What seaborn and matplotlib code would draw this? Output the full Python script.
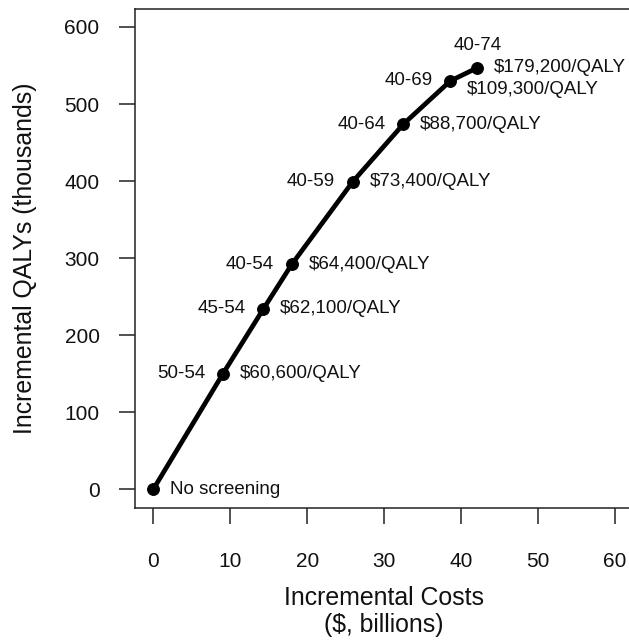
import numpy as np
import pandas as pd
import seaborn as sns
from matplotlib import pyplot as plt

# screening strategies (age ranges) along the efficiency frontier
strategies = ['No screening', '50-54', '45-54', '40-54', '40-59', '40-64', '40-69', '40-74']
costs = [0, 9.05, 14.3, 18.0, 25.9, 32.5, 38.6, 42.1]        # $, billions
qalys = [0, 150, 234, 292, 399, 474, 530, 547]                # thousands
icers = ['', '$60,600/QALY', '$62,100/QALY', '$64,400/QALY', '$73,400/QALY',
         '$88,700/QALY', '$109,300/QALY', '$179,200/QALY']

x_ticks = [0, 10, 20, 30, 40, 50, 60]
y_ticks = [0, 100, 200, 300, 400, 500, 600]


def make_frame():
    return pd.DataFrame({'strategy': strategies, 'cost': costs,
                         'qaly': qalys, 'icer': icers})


def plot_frontier(df):
    fig = plt.figure(figsize=(6.29, 6.40), dpi=100)
    ax = fig.add_axes([0.2146, 0.2070, 0.7925, 0.7797])
    sns.lineplot(data=df, x='cost', y='qaly', ax=ax, color='black',
                 linewidth=3.4, marker='o', markersize=8.5,
                 markeredgecolor='black', sort=False)

    ax.set_xlim(-2.4, 62.4)
    ax.set_ylim(-24, 624)
    ax.set_xticks(x_ticks)
    ax.set_yticks(y_ticks)
    ax.tick_params(bottom=True, left=True, top=False, right=False,
                   direction='out', length=11.5, width=1.1, labelsize=15,
                   color='#222222')
    ax.tick_params(axis='x', pad=20.5)
    ax.tick_params(axis='y', pad=14)
    for side in ['top', 'right', 'left', 'bottom']:
        ax.spines[side].set_visible(True)
        ax.spines[side].set_linewidth(1.1)
        ax.spines[side].set_color('#222222')

    ax.set_xlabel('Incremental Costs\n($, billions)', fontsize=17.9,
                  labelpad=11, linespacing=1.13)
    ax.set_ylabel('Incremental QALYs (thousands)', fontsize=17.9, labelpad=20)

    # labels: age range on the left, ICER on the right
    fs = 13.5
    for i, row in df.iterrows():
        xy = (row['cost'], row['qaly'])
        name = row['strategy']
        if name == 'No screening':
            ax.annotate(name, xy, xytext=(12, 0), textcoords='offset points',
                        ha='left', va='center', fontsize=fs)
            continue
        if name == '40-74':
            ax.annotate(name, xy, xytext=(0, 16), textcoords='offset points',
                        ha='center', va='center', fontsize=fs)
        else:
            ax.annotate(name, xy, xytext=(-13, 0), textcoords='offset points',
                        ha='right', va='center', fontsize=fs)
        dy = -6 if name == '40-69' else 0
        ax.annotate(row['icer'], xy, xytext=(12, dy), textcoords='offset points',
                    ha='left', va='center', fontsize=fs)
    return fig


if __name__ == '__main__':
    sns.set_theme(style='ticks')
    plt.rcParams['font.family'] = ['Liberation Sans', 'DejaVu Sans']
    plt.rcParams['text.color'] = '#111111'
    plt.rcParams['axes.labelcolor'] = '#111111'
    plt.rcParams['xtick.color'] = '#111111'
    plt.rcParams['ytick.color'] = '#111111'
    data = make_frame()
    fig = plot_frontier(data)
    fig.savefig('out.png', dpi=100)
